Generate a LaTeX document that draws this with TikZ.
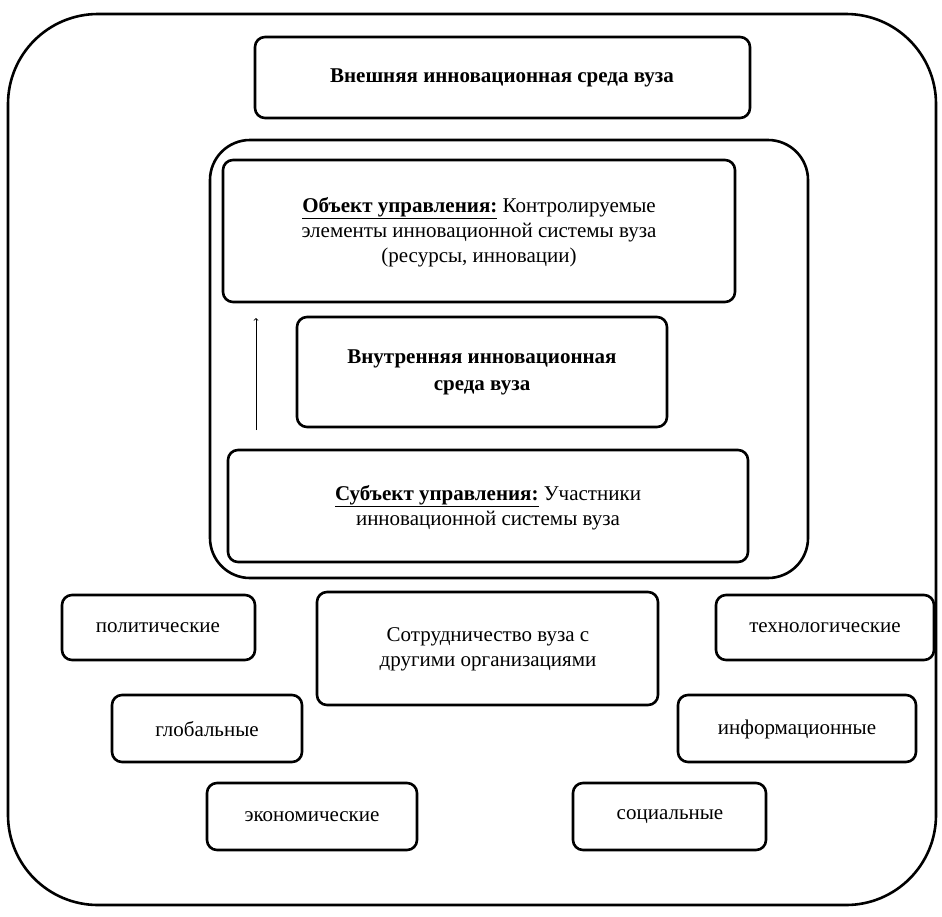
\documentclass[tikz,border=0pt]{standalone}
\usepackage{fontspec}
\setmainfont{Liberation Serif}
\begin{document}
\begin{tikzpicture}[x=1pt,y=-1pt,
  bx/.style={draw,line width=2.6pt,rounded corners=10pt},
  lbl/.style={font=\fontsize{21}{25}\selectfont,align=center}]
\useasboundingbox (0,0) rectangle (942,916);
\draw[line width=2.6pt,rounded corners=90pt] (8,14) rectangle (936,905);
\draw[bx] (255,37) rectangle (750,118);
\node[lbl,font=\fontsize{21}{25}\selectfont\bfseries] (ext) at (502,78) {Внешняя инновационная среда вуза};
\draw[line width=2.6pt,rounded corners=40pt] (210,140) rectangle (808,578);
\draw[bx] (223,160) rectangle (735,302);
\node[lbl] (obj) at (479,232) {\textbf{\underline{Объект управления:}} Контролируемые\\элементы инновационной системы вуза\\(ресурсы, инновации)};
\draw[bx] (297,317) rectangle (667,427);
\node[lbl,font=\fontsize{21}{27}\selectfont\bfseries] (inn) at (482,372) {Внутренняя инновационная\\среда вуза};
\draw[bx] (228,450) rectangle (748,562);
\node[lbl] (sub) at (488,508) {\textbf{\underline{Субъект управления:}} Участники\\инновационной системы вуза};
\coordinate (a1) at (256,430); \coordinate (a2) at (256,318);
\draw[->,line width=0.8pt] (a1) -- (a2);
\draw[bx] (62,595) rectangle (255,660); \node[lbl] (p) at (158,628) {политические};
\draw[bx] (317,592) rectangle (658,705); \node[lbl] (c) at (488,649) {Сотрудничество вуза с\\другими организациями};
\draw[bx] (716,595) rectangle (934,660); \node[lbl] (t) at (825,628) {технологические};
\draw[bx] (112,695) rectangle (302,762); \node[lbl] (g) at (207,729) {глобальные};
\draw[bx] (678,695) rectangle (916,762); \node[lbl] (i) at (797,729) {информационные};
\draw[bx] (207,783) rectangle (417,850); \node[lbl] (e) at (312,817) {экономические};
\draw[bx] (573,783) rectangle (766,850); \node[lbl] (s) at (670,817) {социальные};
\end{tikzpicture}
\end{document}
